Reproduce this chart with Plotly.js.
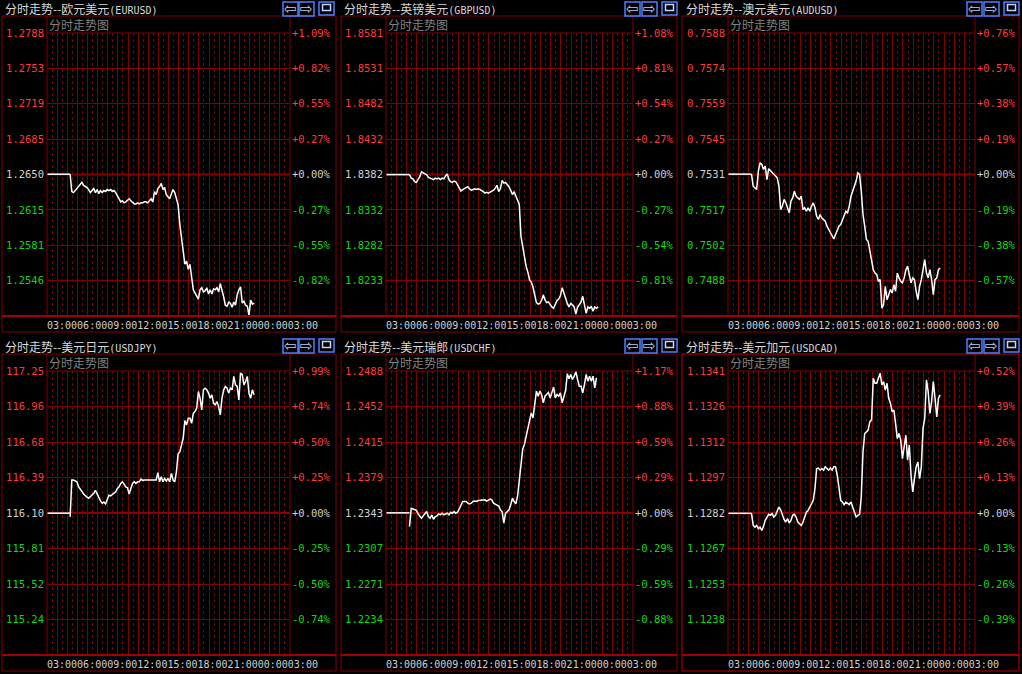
<!DOCTYPE html>
<html><head><meta charset="utf-8">
<script src="https://cdn.plot.ly/plotly-3.0.1.min.js"></script>
<style>html,body{margin:0;padding:0;background:#000;overflow:hidden}#chart{width:1022px;height:674px}</style>
</head><body><div id="chart"></div>
<script>
// ---------------- data ----------------
const timeLabels = ["03:00","06:00","09:00","12:00","15:00","18:00","21:00","00:00","03:00"];
const panelTitles = ["分时走势--欧元美元","分时走势--英镑美元","分时走势--澳元美元","分时走势--美元日元","分时走势--美元瑞郎","分时走势--美元加元"];
const pairCodes = ["(EURUSD)","(GBPUSD)","(AUDUSD)","(USDJPY)","(USDCHF)","(USDCAD)"];
const subTitle = "分时走势图";

// session: minutes after 03:00, first sample at 05:17, one sample every 10 minutes
const firstSampleMinute = 137;
const sampleStepMinutes = 10;

const eurusdPrices = ["1.2788","1.2753","1.2719","1.2685","1.2650","1.2615","1.2581","1.2546"];
const eurusdPct = ["+1.09%","+0.82%","+0.55%","+0.27%","+0.00%","-0.27%","-0.55%","-0.82%"];
const eurusdPrevClose = 1.2650;
const eurusd = [1.2650,1.2633,1.2632,1.2634,1.2636,1.2638,1.2641,1.2642,1.2639,1.2638,
 1.2637,1.2635,1.2632,1.2634,1.2636,1.2632,1.2635,1.2631,1.2634,1.2632,
 1.2634,1.2633,1.2635,1.2634,1.2635,1.2633,1.2634,1.2632,1.2629,1.2626,
 1.2623,1.2624,1.2622,1.2623,1.2625,1.2626,1.2624,1.2622,1.2621,1.2621,
 1.2622,1.2621,1.2622,1.2622,1.2623,1.2623,1.2622,1.2624,1.2626,1.2623,
 1.2633,1.2630,1.2636,1.2638,1.2641,1.2635,1.2637,1.2630,1.2628,1.2626,
 1.2631,1.2635,1.2632,1.2627,1.2620,1.2601,1.2589,1.2577,1.2562,1.2565,
 1.2557,1.2562,1.2551,1.2537,1.2534,1.2531,1.2528,1.2537,1.2539,1.2535,
 1.2536,1.2539,1.2533,1.2537,1.2533,1.2538,1.2537,1.2539,1.2535,1.2543,
 1.2537,1.2530,1.2522,1.2521,1.2525,1.2524,1.2520,1.2525,1.2522,1.2532,
 1.2537,1.2540,1.2524,1.2526,1.2522,1.2521,1.2512,1.2527,1.2523,1.2524];

const gbpusdPrices = ["1.8581","1.8531","1.8482","1.8432","1.8382","1.8332","1.8282","1.8233"];
const gbpusdPct = ["+1.08%","+0.81%","+0.54%","+0.27%","+0.00%","-0.27%","-0.54%","-0.81%"];
const gbpusdPrevClose = 1.8382;
const gbpusd = [1.8382,1.8377,1.8376,1.8372,1.8371,1.8375,1.8379,1.8386,1.8384,1.8383,
 1.8382,1.8378,1.8377,1.8376,1.8375,1.8377,1.8376,1.8377,1.8375,1.8377,
 1.8376,1.8380,1.8383,1.8375,1.8372,1.8371,1.8373,1.8372,1.8368,1.8364,
 1.8359,1.8361,1.8362,1.8364,1.8365,1.8362,1.8360,1.8361,1.8362,1.8361,
 1.8362,1.8361,1.8360,1.8358,1.8356,1.8357,1.8356,1.8357,1.8358,1.8360,
 1.8363,1.8367,1.8358,1.8362,1.8374,1.8370,1.8371,1.8368,1.8365,1.8360,
 1.8354,1.8358,1.8352,1.8346,1.8340,1.8295,1.8279,1.8265,1.8253,1.8245,
 1.8234,1.8231,1.8224,1.8213,1.8202,1.8200,1.8201,1.8205,1.8213,1.8206,
 1.8202,1.8203,1.8199,1.8196,1.8194,1.8201,1.8205,1.8207,1.8212,1.8223,
 1.8215,1.8210,1.8201,1.8196,1.8201,1.8199,1.8196,1.8186,1.8196,1.8199,
 1.8203,1.8211,1.8196,1.8187,1.8196,1.8194,1.8197,1.8190,1.8196,1.8194,
 1.8196];

const audusdPrices = ["0.7588","0.7574","0.7559","0.7545","0.7531","0.7517","0.7502","0.7488"];
const audusdPct = ["+0.76%","+0.57%","+0.38%","+0.19%","+0.00%","-0.19%","-0.38%","-0.57%"];
const audusdPrevClose = 0.7531;
const audusd = [0.75310,0.75261,0.75255,0.75248,0.75322,0.75356,0.75349,0.75329,0.75342,0.75288,
 0.75332,0.75325,0.75315,0.75309,0.75302,0.75295,0.75261,0.75167,0.75181,0.75208,
 0.75194,0.75174,0.75154,0.75201,0.75214,0.75241,0.75221,0.75214,0.75208,0.75221,
 0.75167,0.75174,0.75160,0.75174,0.75160,0.75181,0.75194,0.75174,0.75140,0.75127,
 0.75147,0.75133,0.75127,0.75120,0.75100,0.75086,0.75073,0.75059,0.75048,0.75066,
 0.75086,0.75100,0.75106,0.75127,0.75147,0.75160,0.75154,0.75181,0.75221,0.75241,
 0.75261,0.75282,0.75315,0.75309,0.75241,0.75147,0.75100,0.75046,0.75039,0.74999,
 0.74951,0.74924,0.74911,0.74904,0.74877,0.74884,0.74769,0.74783,0.74857,0.74803,
 0.74823,0.74844,0.74830,0.74864,0.74837,0.74911,0.74891,0.74877,0.74871,0.74891,
 0.74924,0.74938,0.74904,0.74871,0.74891,0.74884,0.74837,0.74803,0.74857,0.74884,
 0.74924,0.74965,0.74911,0.74891,0.74924,0.74884,0.74823,0.74884,0.74891,0.74924,
 0.74931];

const usdjpyPrices = ["117.25","116.96","116.68","116.39","116.10","115.81","115.52","115.24"];
const usdjpyPct = ["+0.99%","+0.74%","+0.50%","+0.25%","+0.00%","-0.25%","-0.50%","-0.74%"];
const usdjpyPrevClose = 116.10;
const usdjpy = [116.070,116.368,116.368,116.361,116.354,116.315,116.290,116.275,116.255,116.240,
 116.230,116.220,116.235,116.245,116.260,116.285,116.255,116.225,116.200,116.180,
 116.190,116.175,116.215,116.245,116.240,116.250,116.262,116.273,116.300,116.313,
 116.341,116.354,116.335,116.313,116.305,116.255,116.300,116.341,116.354,116.341,
 116.354,116.354,116.376,116.365,116.368,116.368,116.368,116.368,116.368,116.368,
 116.365,116.368,116.428,116.354,116.395,116.354,116.381,116.360,116.381,116.354,
 116.422,116.368,116.354,116.435,116.580,116.595,116.651,116.706,116.850,116.814,
 116.868,116.868,116.827,116.908,116.922,116.949,117.084,117.030,116.935,117.098,
 117.111,117.098,117.071,117.030,117.057,116.989,116.976,117.003,116.962,116.895,
 117.030,117.098,117.125,117.111,117.071,117.111,117.098,117.206,117.138,117.125,
 117.016,117.233,117.220,117.138,117.165,117.206,117.070,117.030,117.098,117.057];

const usdchfPrices = ["1.2488","1.2452","1.2415","1.2379","1.2343","1.2307","1.2271","1.2234"];
const usdchfPct = ["+1.17%","+0.88%","+0.59%","+0.29%","+0.00%","-0.29%","-0.59%","-0.88%"];
const usdchfPrevClose = 1.2343;
const usdchf = [1.23290,1.23477,1.23470,1.23460,1.23455,1.23419,1.23392,1.23375,1.23399,1.23426,
 1.23443,1.23392,1.23375,1.23409,1.23365,1.23392,1.23399,1.23419,1.23409,1.23426,
 1.23409,1.23419,1.23426,1.23409,1.23436,1.23426,1.23443,1.23426,1.23436,1.23470,
 1.23512,1.23546,1.23546,1.23546,1.23529,1.23522,1.23529,1.23546,1.23550,1.23546,
 1.23556,1.23556,1.23556,1.23556,1.23563,1.23550,1.23556,1.23570,1.23563,1.23529,
 1.23520,1.23512,1.23500,1.23460,1.23443,1.23324,1.23426,1.23443,1.23460,1.23512,
 1.23580,1.23546,1.23522,1.23600,1.23750,1.23930,1.24080,1.24130,1.24220,1.24310,
 1.24366,1.24452,1.24400,1.24570,1.24674,1.24622,1.24674,1.24640,1.24554,1.24622,
 1.24640,1.24660,1.24605,1.24674,1.24715,1.24605,1.24640,1.24622,1.24657,1.24554,
 1.24622,1.24680,1.24851,1.24800,1.24845,1.24793,1.24827,1.24872,1.24793,1.24725,
 1.24725,1.24657,1.24742,1.24845,1.24776,1.24827,1.24776,1.24827,1.24708,1.24810];

const usdcadPrices = ["1.1341","1.1326","1.1312","1.1297","1.1282","1.1267","1.1253","1.1238"];
const usdcadPct = ["+0.52%","+0.39%","+0.26%","+0.13%","+0.00%","-0.13%","-0.26%","-0.39%"];
const usdcadPrevClose = 1.1282;
const usdcad = [1.12820,1.12770,1.12763,1.12770,1.12756,1.12763,1.12749,1.12766,1.12791,1.12805,
 1.12816,1.12812,1.12819,1.12805,1.12812,1.12830,1.12846,1.12835,1.12812,1.12795,
 1.12784,1.12798,1.12780,1.12791,1.12812,1.12816,1.12805,1.12784,1.12777,1.12770,
 1.12784,1.12805,1.12825,1.12832,1.12846,1.12860,1.12874,1.12923,1.13006,1.13008,
 1.12999,1.13006,1.12999,1.13013,1.13006,1.12999,1.13008,1.12999,1.13013,1.13013,
 1.12978,1.12923,1.12874,1.12867,1.12856,1.12867,1.12860,1.12856,1.12867,1.12846,
 1.12825,1.12805,1.12812,1.12816,1.12890,1.13075,1.13151,1.13158,1.13165,1.13200,
 1.13207,1.13380,1.13359,1.13359,1.13380,1.13401,1.13352,1.13366,1.13331,1.13359,
 1.13297,1.13276,1.13241,1.13248,1.13193,1.13130,1.13151,1.13124,1.13047,1.13089,
 1.13144,1.13040,1.13103,1.12978,1.12909,1.12964,1.13013,1.13033,1.12964,1.13013,
 1.13172,1.13214,1.13373,1.13324,1.13234,1.13283,1.13366,1.13297,1.13220,1.13297,
 1.13311];

// ---------------- layout / style ----------------
const W = 1022, H = 674;
const RED = "#ff3a3a", GREEN = "#10d810", NEUTRAL = "#d0d0d0", GRID = "#800000";
const MONO = "DejaVu Sans Mono", CJK = "Noto Sans CJK SC";

const cols = [
  {fl:2,  fr:336,  pl:47,  pr:290, tx:4,   btn:[283,299,319]},
  {fl:341,fr:677,  pl:386, pr:633, tx:343, btn:[625,642,662]},
  {fl:682,fr:1019, pl:728, pr:975, tx:685, btn:[967,984,1004]}
];
const rows = [
  {tt:8.5, ft:16,  pt:33,  pb:316, tl:325, fb:332},
  {tt:346, ft:354, pt:371, pb:655, tl:664, fb:671}
];

const panels = [
  {prices:eurusdPrices, pct:eurusdPct, prev:eurusdPrevClose, values:eurusd},
  {prices:gbpusdPrices, pct:gbpusdPct, prev:gbpusdPrevClose, values:gbpusd},
  {prices:audusdPrices, pct:audusdPct, prev:audusdPrevClose, values:audusd},
  {prices:usdjpyPrices, pct:usdjpyPct, prev:usdjpyPrevClose, values:usdjpy},
  {prices:usdchfPrices, pct:usdchfPct, prev:usdchfPrevClose, values:usdchf},
  {prices:usdcadPrices, pct:usdcadPct, prev:usdcadPrevClose, values:usdcad}
];

const fx = x => x / W, fy = y => 1 - y / H;
const data = [];
const layout = {
  width: W, height: H, margin:{l:0,r:0,t:0,b:0},
  paper_bgcolor:"#000", plot_bgcolor:"rgba(0,0,0,0)", showlegend:false,
  shapes:[], annotations:[], hovermode:false
};
function line(x0,y0,x1,y1,color,width,layer){
  layout.shapes.push({type:"line",xref:"paper",yref:"paper",x0:fx(x0),y0:fy(y0),x1:fx(x1),y1:fy(y1),
    line:{color:color,width:width||1},layer:layer||"above"});
}
function rect(x0,y0,x1,y1,color,width){
  layout.shapes.push({type:"rect",xref:"paper",yref:"paper",x0:fx(x0),y0:fy(y0),x1:fx(x1),y1:fy(y1),
    line:{color:color,width:width||1},fillcolor:"rgba(0,0,0,0)",layer:"above"});
}
function colorFor(j){ return j<4 ? RED : (j>4 ? GREEN : NEUTRAL); }

panels.forEach((p,k)=>{
  const c = cols[k%3], r = rows[Math.floor(k/3)];
  const n = k+1, nr = k+7;
  const top = parseFloat(p.prices[0]), bot = parseFloat(p.prices[7]);
  const step = (top-bot)/7;
  const tickvals = [0,1,2,3,4,5,6,7,8].map(j=>top-j*step);
  const range = [top-8*step, top];
  const tx = p.prices.map((s,j)=>`<span style="color:${colorFor(j)}">${s}</span>`).concat([""]);
  const tp = p.pct.map((s,j)=>`<span style="color:${colorFor(j)}">${s}</span>`).concat([""]);
  const xdom = [fx(c.pl), fx(c.pr)], ydom = [fy(r.pb), fy(r.pt)];

  layout["xaxis"+n] = {domain:xdom, range:[0,1440], anchor:"y"+n, showticklabels:false, ticks:"",
    tickmode:"linear", tick0:0, dtick:60, showgrid:true, gridcolor:GRID, gridwidth:1,
    zeroline:false, showline:false, fixedrange:true,
    minor:{tickmode:"linear", tick0:0, dtick:30, showgrid:true, gridcolor:GRID, gridwidth:1, griddash:"3px,3px", ticks:""}};
  layout["yaxis"+n] = {domain:ydom, range:range, anchor:"x"+n, tickmode:"array", tickvals:tickvals, ticktext:tx,
    ticks:"", showgrid:true, gridcolor:GRID, gridwidth:1, zeroline:false, showline:false, fixedrange:true,
    tickfont:{family:MONO,size:10.5,color:NEUTRAL}, ticklabelstandoff:2};
  layout["yaxis"+nr] = {domain:ydom, range:range, anchor:"x"+n, overlaying:"y"+n, side:"right",
    tickmode:"array", tickvals:tickvals, ticktext:tp, ticks:"", showgrid:false, zeroline:false, showline:false,
    fixedrange:true, tickfont:{family:MONO,size:10.5,color:NEUTRAL}, ticklabelstandoff:1};

  const times = p.values.map((_,i)=>firstSampleMinute + i*sampleStepMinutes);
  data.push({type:"scatter", mode:"lines", x:[0, firstSampleMinute], y:[p.prev, p.prev],
    xaxis:"x"+n, yaxis:"y"+nr, line:{color:"#ffffff", width:1.5}, hoverinfo:"skip"});
  data.push({type:"scatter", mode:"lines", x:times, y:p.values,
    xaxis:"x"+n, yaxis:"y"+n, line:{color:"#ffffff", width:1.5}, hoverinfo:"skip"});

  // frame
  const frameColor = (k===5) ? "#c00000" : GRID;
  rect(c.fl, r.ft, c.fr, r.fb, frameColor, 1);
  line(c.pl, r.ft, c.pl, r.pb, GRID, 1);
  line(c.pr, r.ft, c.pr, r.pb, GRID, 1);
  line(c.pl, r.pt, c.pr, r.pt, GRID, 1);
  line(c.pl, (r.pt+r.pb)/2, c.pr, (r.pt+r.pb)/2, "#900000", 2, "below");
  line(c.fl, r.pb, c.fr, r.pb, "#a00000", 2);

  // title
  layout.annotations.push({xref:"paper",yref:"paper",x:fx(c.tx),y:fy(r.tt),xanchor:"left",yanchor:"middle",
    showarrow:false, text:panelTitles[k]+`<span style="font-family:${MONO};font-size:10px">${pairCodes[k]}</span>`,
    font:{family:CJK,size:12,color:"#d8d8d8"}, borderpad:0});
  layout.annotations.push({xref:"paper",yref:"paper",x:fx(c.pl+1),y:fy(r.ft+8.5),xanchor:"left",yanchor:"middle",
    showarrow:false, text:subTitle, font:{family:CJK,size:12,color:"#808080"}, borderpad:0});
  layout.annotations.push({xref:"paper",yref:"paper",x:fx(c.pl-1),y:fy(r.tl),xanchor:"left",yanchor:"middle",
    showarrow:false, text:timeLabels.join(""), font:{family:MONO,size:10,color:"#d0d0d0"}, borderpad:0});

  // buttons
  const by0 = Math.round(r.tt)-7, by1 = Math.round(r.tt)+7;
  const BTN = "#4f7fff";
  rect(c.btn[0], by0, c.btn[0]+15, by1, BTN, 1.5);
  rect(c.btn[1], by0, c.btn[1]+15, by1, BTN, 1.5);
  rect(c.btn[2], by0, c.btn[2]+15, by1-1, BTN, 1.5);
  rect(c.btn[2]+3.5, by0+2.5, c.btn[2]+11.5, by0+8.5, "#c0d4ff", 1.5);
  layout.annotations.push({xref:"paper",yref:"paper",x:fx(c.btn[0]+7.5),y:fy(r.tt),xanchor:"center",yanchor:"middle",
    showarrow:false,text:"⇦",font:{family:"DejaVu Sans",size:15,color:"#b8ccff"},borderpad:0});
  layout.annotations.push({xref:"paper",yref:"paper",x:fx(c.btn[1]+7.5),y:fy(r.tt),xanchor:"center",yanchor:"middle",
    showarrow:false,text:"⇨",font:{family:"DejaVu Sans",size:15,color:"#b8ccff"},borderpad:0});
});

Plotly.newPlot("chart", data, layout, {staticPlot:true, displayModeBar:false});
</script>
</body></html>
